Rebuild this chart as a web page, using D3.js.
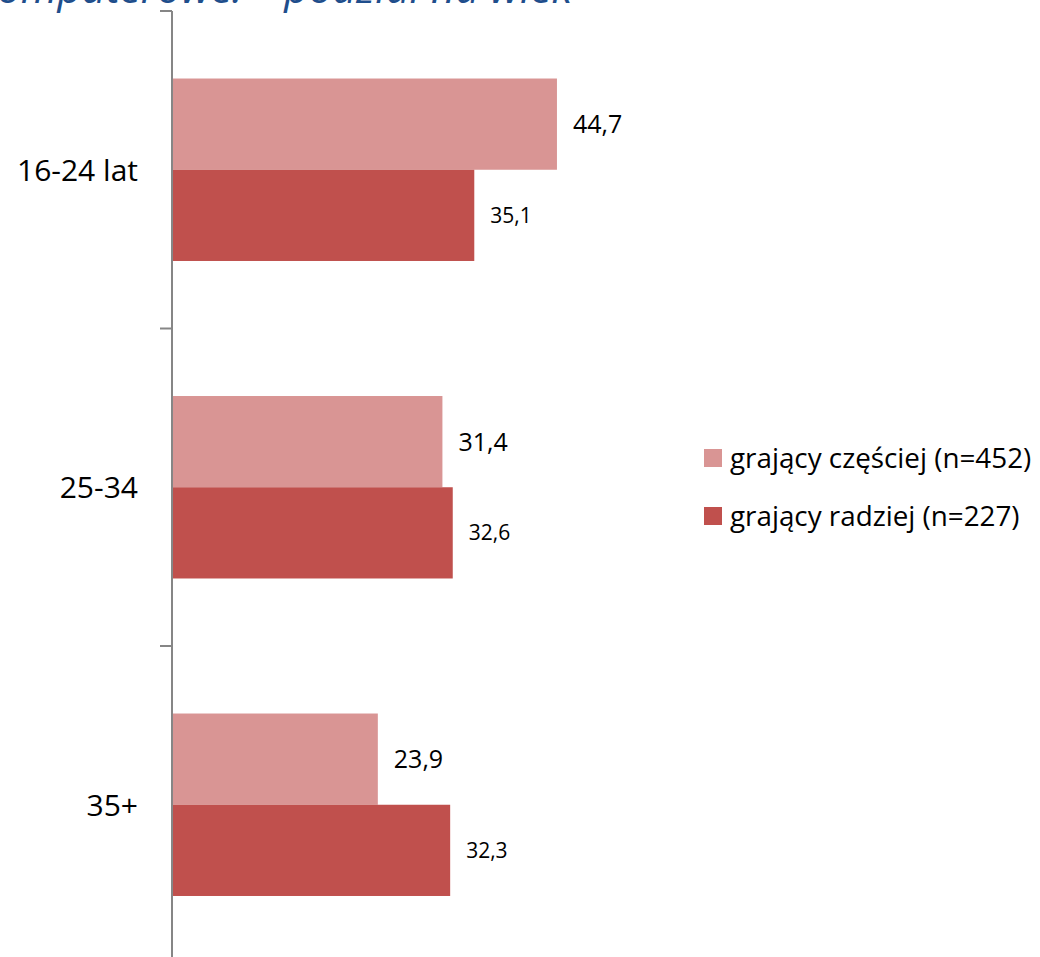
<!DOCTYPE html>
<html>
<head>
<meta charset="utf-8">
<script src="https://cdn.jsdelivr.net/npm/d3@7"></script>
<style>
  body { margin: 0; background: #fff; }
  svg { display: block; font-family: 'Open Sans', sans-serif; }
</style>
</head>
<body>
<svg id="chart" width="1040" height="957"></svg>
<script>
const categories = ['16-24 lat', '25-34', '35+']
const series = ['grający częściej (n=452)', 'grający radziej (n=227)']
const czesciej = [44.7, 31.4, 23.9]
const radziej = [35.1, 32.6, 32.3]
const colors = ['#d99594', '#c0504d']
const title = 'Gry komputerowe: – podział na wiek'

const svg = d3.select('#chart')
const fmt = (v) => d3.format('.1f')(v).replace('.', ',')

const x = d3.scaleLinear().domain([0, 50]).range([172, 602.6])
const y = d3.scaleBand().domain(categories).range([11, 963.5])
const ySub = d3.scaleBand().domain(series).range([0, y.bandwidth()]).paddingOuter(0.74)

const data = categories.map((c, i) => ({ cat: c, values: [czesciej[i], radziej[i]] }))

// title (cut off at the top, as in the source)
svg.append('text')
  .attr('x', 572).attr('y', 3)
  .attr('text-anchor', 'end')
  .style('font-size', '42px')
  .style('font-style', 'italic')
  .style('fill', '#1f4e8c')
  .text(title)

// bars
const gBars = svg.append('g')
const groups = gBars.selectAll('g')
  .data(data).enter()
  .append('g')
  .attr('transform', (d) => `translate(0, ${y(d.cat)})`)

groups.selectAll('rect')
  .data((d) => d.values.map((v, i) => ({ v, s: series[i], i })))
  .enter().append('rect')
  .attr('x', x(0))
  .attr('y', (d) => ySub(d.s))
  .attr('width', (d) => x(d.v) - x(0))
  .attr('height', ySub.bandwidth())
  .style('fill', (d) => colors[d.i])

groups.selectAll('text')
  .data((d) => d.values.map((v, i) => ({ v, s: series[i], i })))
  .enter().append('text')
  .attr('x', (d) => x(d.v) + 16)
  .attr('y', (d) => ySub(d.s) + ySub.bandwidth() / 2)
  .attr('dy', '0.36em')
  .style('font-size', (d) => d.i === 0 ? '25px' : '21px')
  .style('fill', '#000')
  .text((d) => fmt(d.v))

// axis
const gAxis = svg.append('g')
gAxis.append('line')
  .attr('x1', x(0)).attr('x2', x(0))
  .attr('y1', y.range()[0]).attr('y2', y.range()[1])
  .style('stroke', '#868686').style('stroke-width', 2)
const tickYs = categories.map((c) => y(c)).concat([y.range()[1]])
gAxis.selectAll('line.tick')
  .data(tickYs).enter()
  .append('line').classed('tick', true)
  .attr('x1', x(0) - 12).attr('x2', x(0))
  .attr('y1', (d) => d).attr('y2', (d) => d)
  .style('stroke', '#868686').style('stroke-width', 2)
gAxis.selectAll('text')
  .data(categories).enter()
  .append('text')
  .attr('x', 138)
  .attr('y', (d) => y(d) + y.bandwidth() / 2)
  .attr('dy', '0.36em')
  .attr('text-anchor', 'end')
  .style('font-size', '30px')
  .style('fill', '#000')
  .text((d) => d)

// legend
const legend = svg.append('g').attr('transform', 'translate(704, 449)')
const items = legend.selectAll('g')
  .data(series).enter()
  .append('g')
  .attr('transform', (_, i) => `translate(0, ${i * 58})`)
items.append('rect')
  .attr('width', 18).attr('height', 18)
  .style('fill', (_, i) => colors[i])
items.append('text')
  .attr('x', 26).attr('y', 9)
  .attr('dy', '0.36em')
  .style('font-size', '27.8px')
  .style('fill', '#000')
  .text((d) => d)
</script>
</body>
</html>
